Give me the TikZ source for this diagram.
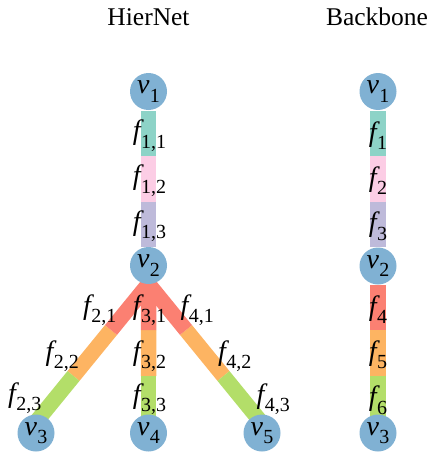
\documentclass[tikz,border=0pt]{standalone}
\usepackage{fontspec}
\setmainfont{Liberation Serif}
\newfontfamily\labfont{Liberation Serif}
\usetikzlibrary{calc}
\definecolor{cTeal}{HTML}{8DD3C7}
\definecolor{cPink}{HTML}{FCCDE5}
\definecolor{cLav}{HTML}{BEBADA}
\definecolor{cRed}{HTML}{FB8072}
\definecolor{cOrange}{HTML}{FDB462}
\definecolor{cGreen}{HTML}{B3DE69}
\definecolor{cNode}{HTML}{80B1D3}
% italic symbol with a lowered, smaller subscript
\newcommand\symsub[2]{{\itshape #1}\kern0.01em\raisebox{-0.3em}{\fontsize{20}{20}\selectfont #2}}
\begin{document}
\begin{tikzpicture}[x=1pt,y=-1pt,
  vtx/.style={circle,fill=cNode,minimum size=37pt,inner sep=0pt,
    font=\labfont\fontsize{28}{28}\selectfont},
  bar/.style={line width=15.5pt,line cap=butt},
  lbl/.style={inner sep=0pt,font=\labfont\fontsize{28}{28}\selectfont},
  ttl/.style={inner sep=0pt,font=\labfont\fontsize{25.5}{25.5}\selectfont}]
\useasboundingbox (0,0) rectangle (431,452);

% titles
\node[ttl,anchor=base] (tH) at (148.5,26) {HierNet};
\node[ttl,anchor=base] (tB) at (377,26) {Backbone};

% ---------- HierNet ----------
% segment end points of the chain v1 -> v2
\coordinate (a0) at (148.5,111);
\coordinate (a1) at (148.5,156);
\coordinate (a2) at (148.5,201.5);
\coordinate (a3) at (148.5,247);
% fan out of v2
\coordinate (apex) at (148.5,284);
\coordinate (l3) at (36,422);
\coordinate (m3) at (148.5,422);
\coordinate (r3) at (261,422);
\coordinate (l1) at ($(apex)!1/3!(l3)$);
\coordinate (l2) at ($(apex)!2/3!(l3)$);
\coordinate (m1) at ($(apex)!1/3!(m3)$);
\coordinate (m2) at ($(apex)!2/3!(m3)$);
\coordinate (r1) at ($(apex)!1/3!(r3)$);
\coordinate (r2) at ($(apex)!2/3!(r3)$);

\draw[bar,cTeal] (a0) -- (a1);
\draw[bar,cPink] (a1) -- (a2);
\draw[bar,cLav] (a2) -- (a3);

\draw[bar,cOrange] (l1) -- (l2);
\draw[bar,cGreen] (l2) -- (l3);
\draw[bar,cOrange] (r1) -- (r2);
\draw[bar,cGreen] (r2) -- (r3);
\draw[bar,cOrange] (m1) -- (m2);
\draw[bar,cGreen] (m2) -- (m3);
\draw[bar,cRed] (apex) -- (l1);
\draw[bar,cRed] (apex) -- (r1);
\draw[bar,cRed] (apex) -- (m1);

\node[vtx] (h1) at (148.5,91.5) {\symsub{v}{1}};
\node[vtx] (h2) at (148.5,265.5) {\symsub{v}{2}};
\node[vtx] (h3) at (36,433) {\symsub{v}{3}};
\node[vtx] (h4) at (148.5,433) {\symsub{v}{4}};
\node[vtx] (h5) at (262,433) {\symsub{v}{5}};

\node[lbl] (f11) at ($(a0)!0.5!(a1)+(1,2)$) {\symsub{f}{1,1}};
\node[lbl] (f12) at ($(a1)!0.5!(a2)+(1,2)$) {\symsub{f}{1,2}};
\node[lbl] (f13) at ($(a2)!0.5!(a3)+(1,2)$) {\symsub{f}{1,3}};

\node[lbl] (f21) at ($(apex)!1/6!(l3)+(-30,3)$) {\symsub{f}{2,1}};
\node[lbl] (f22) at ($(apex)!3/6!(l3)+(-30,3)$) {\symsub{f}{2,2}};
\node[lbl] (f23) at ($(apex)!5/6!(l3)+(-30,-1)$) {\symsub{f}{2,3}};
\node[lbl] (f31) at ($(apex)!1/6!(m3)+(1,3)$) {\symsub{f}{3,1}};
\node[lbl] (f32) at ($(apex)!3/6!(m3)+(1,3)$) {\symsub{f}{3,2}};
\node[lbl] (f33) at ($(apex)!5/6!(m3)+(1,0)$) {\symsub{f}{3,3}};
\node[lbl] (f41) at ($(apex)!1/6!(r3)+(30,3)$) {\symsub{f}{4,1}};
\node[lbl] (f42) at ($(apex)!3/6!(r3)+(30,3)$) {\symsub{f}{4,2}};
\node[lbl] (f43) at ($(apex)!5/6!(r3)+(31,0)$) {\symsub{f}{4,3}};

% ---------- Backbone ----------
\coordinate (b0) at (378,111);
\coordinate (b1) at (378,156);
\coordinate (b2) at (378,201.5);
\coordinate (b3) at (378,247);
\coordinate (c0) at (378,285);
\coordinate (c1) at (378,330);
\coordinate (c2) at (378,375.5);
\coordinate (c3) at (378,421);

\draw[bar,cTeal] (b0) -- (b1);
\draw[bar,cPink] (b1) -- (b2);
\draw[bar,cLav] (b2) -- (b3);
\draw[bar,cRed] (c0) -- (c1);
\draw[bar,cOrange] (c1) -- (c2);
\draw[bar,cGreen] (c2) -- (c3);

\node[vtx] (k1) at (378,91.5) {\symsub{v}{1}};
\node[vtx] (k2) at (378,266) {\symsub{v}{2}};
\node[vtx] (k3) at (378,433) {\symsub{v}{3}};

\node[lbl] (g1) at ($(b0)!0.5!(b1)+(0,2)$) {\symsub{f}{1}};
\node[lbl] (g2) at ($(b1)!0.5!(b2)+(0,2)$) {\symsub{f}{2}};
\node[lbl] (g3) at ($(b2)!0.5!(b3)+(0,2)$) {\symsub{f}{3}};
\node[lbl] (g4) at ($(c0)!0.5!(c1)+(0,2)$) {\symsub{f}{4}};
\node[lbl] (g5) at ($(c1)!0.5!(c2)+(0,2)$) {\symsub{f}{5}};
\node[lbl] (g6) at ($(c2)!0.5!(c3)+(0,2)$) {\symsub{f}{6}};
\end{tikzpicture}
\end{document}
